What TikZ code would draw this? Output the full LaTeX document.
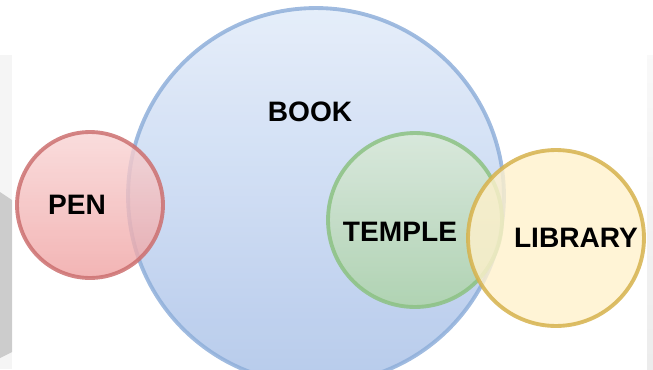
\documentclass[tikz,border=0pt]{standalone}
\usepackage{fontspec}
\setmainfont{Liberation Sans}
\usepackage{tikz}
\usetikzlibrary{positioning}
\definecolor{bookline}{HTML}{8FAFDA}
\definecolor{booktop}{HTML}{E4EDFA}
\definecolor{bookbot}{HTML}{B3C8EA}
\definecolor{penline}{HTML}{CC7070}
\definecolor{pentop}{HTML}{F8D4D4}
\definecolor{penbot}{HTML}{EFA2A2}
\definecolor{templeline}{HTML}{8CC283}
\definecolor{templetop}{HTML}{D9EAD6}
\definecolor{templebot}{HTML}{ACD3A4}
\definecolor{libline}{HTML}{D6B24C}
\definecolor{libfill}{HTML}{FFF1CC}
\tikzset{
  setcircle/.style={circle, inner sep=0pt, line width=2.2pt, draw opacity=0.85, fill opacity=0.8},
  bookset/.style={setcircle, draw=bookline, top color=booktop, bottom color=bookbot, fill opacity=0.95, minimum size=7.52cm},
  penset/.style={setcircle, draw=penline, top color=pentop, bottom color=penbot, minimum size=2.92cm},
  templeset/.style={setcircle, draw=templeline, top color=templetop, bottom color=templebot, minimum size=3.48cm},
  libset/.style={setcircle, draw=libline, fill=libfill, minimum size=3.52cm},
  setlabel/.style={font=\bfseries\fontsize{16}{19}\selectfont, text=black, inner sep=0pt}
}

\begin{document}
\begin{tikzpicture}[x=0.02cm, y=-0.02cm]
  \useasboundingbox (0,0) rectangle (653,369);
  % screenshot edges
  \fill[gray!8] (0,55) rectangle (12,369);
  \fill[gray!40] (0,192) -- (12,200) -- (12,352) -- (0,358) -- cycle;
  \shade[top color=gray!5, bottom color=gray!15] (647,55) rectangle (653,369);
  % sets
  \begin{scope}
    \clip (0,0) rectangle (653,369);
    \node[bookset] (book) at (316,196) {};
  \end{scope}
  \node[penset] (pen) at (90,205) {};
  \node[templeset] (temple) at (415,220) {};
  \node[libset] (library) at (556,238) {};
  % names
  \node[setlabel] (booktext) at (310,112) {BOOK};
  \node[setlabel] (pentext) at (77,205) {PEN};
  \node[setlabel] (templetext) at (400,232) {TEMPLE};
  \node[setlabel] (librarytext) at (576,238) {LIBRARY};
\end{tikzpicture}
\end{document}
